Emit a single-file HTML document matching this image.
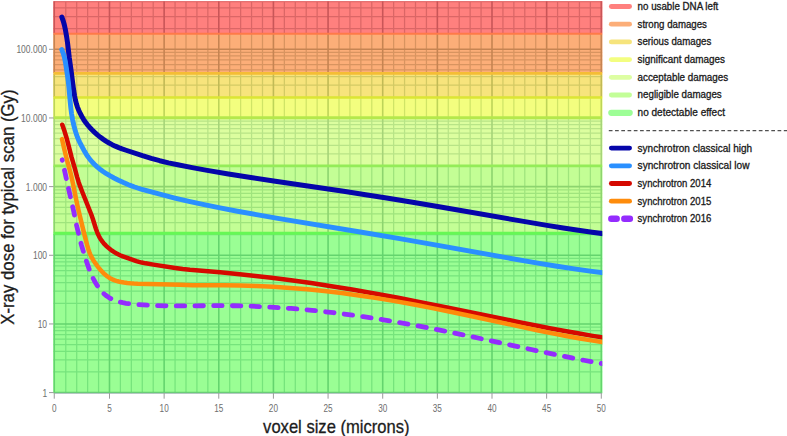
<!DOCTYPE html>
<html><head><meta charset="utf-8"><title>X-ray dose chart</title>
<style>html,body{margin:0;padding:0;background:#fff;width:787px;height:436px;overflow:hidden}svg{display:block}text{font-family:"Liberation Sans",sans-serif}</style>
</head><body>
<svg width="787" height="436" viewBox="0 0 787 436"><defs>
<clipPath id="b0"><rect x="52.25" y="1.20" width="551.25" height="32.60"/></clipPath>
<clipPath id="b1"><rect x="52.25" y="33.80" width="551.25" height="39.60"/></clipPath>
<clipPath id="b2"><rect x="52.25" y="73.40" width="551.25" height="24.10"/></clipPath>
<clipPath id="b3"><rect x="52.25" y="97.50" width="551.25" height="20.20"/></clipPath>
<clipPath id="b4"><rect x="52.25" y="117.70" width="551.25" height="48.20"/></clipPath>
<clipPath id="b5"><rect x="52.25" y="165.90" width="551.25" height="67.30"/></clipPath>
<clipPath id="b6"><rect x="52.25" y="233.20" width="551.25" height="160.10"/></clipPath>
<clipPath id="pc"><rect x="51.25" y="0" width="551.05" height="397.60"/></clipPath>
</defs>
<rect x="53.3" y="1.20" width="549.15" height="32.60" fill="#ff807e"/>
<g clip-path="url(#b0)" fill="none"><path d="M53.65 28.63H602.10M53.65 16.54H602.10M53.65 7.96H602.10M53.65 1.31H602.10M53.65 1.60H602.10M65.77 1.20V33.80M76.70 1.20V33.80M87.63 1.20V33.80M98.56 1.20V33.80M120.41 1.20V33.80M131.34 1.20V33.80M142.27 1.20V33.80M153.20 1.20V33.80M175.06 1.20V33.80M185.99 1.20V33.80M196.92 1.20V33.80M207.85 1.20V33.80M229.70 1.20V33.80M240.63 1.20V33.80M251.56 1.20V33.80M262.49 1.20V33.80M284.35 1.20V33.80M295.28 1.20V33.80M306.21 1.20V33.80M317.14 1.20V33.80M338.99 1.20V33.80M349.92 1.20V33.80M360.85 1.20V33.80M371.78 1.20V33.80M393.64 1.20V33.80M404.57 1.20V33.80M415.50 1.20V33.80M426.43 1.20V33.80M448.28 1.20V33.80M459.21 1.20V33.80M470.14 1.20V33.80M481.07 1.20V33.80M502.93 1.20V33.80M513.86 1.20V33.80M524.79 1.20V33.80M535.72 1.20V33.80M557.57 1.20V33.80M568.50 1.20V33.80M579.43 1.20V33.80M590.36 1.20V33.80" stroke="#db6666" stroke-width="1.25"/><path d="M54.25 1.20V33.80M109.49 1.20V33.80M164.13 1.20V33.80M218.78 1.20V33.80M273.42 1.20V33.80M328.07 1.20V33.80M382.71 1.20V33.80M437.36 1.20V33.80M492.00 1.20V33.80M546.64 1.20V33.80M601.29 1.20V33.80" stroke="#c95658" stroke-width="1.6"/></g>
<rect x="53.3" y="33.80" width="549.15" height="39.60" fill="#fcae78"/>
<g clip-path="url(#b1)" fill="none"><path d="M53.65 69.97H602.10M53.65 64.53H602.10M53.65 59.94H602.10M53.65 55.95H602.10M53.65 52.44H602.10M65.77 33.80V73.40M76.70 33.80V73.40M87.63 33.80V73.40M98.56 33.80V73.40M120.41 33.80V73.40M131.34 33.80V73.40M142.27 33.80V73.40M153.20 33.80V73.40M175.06 33.80V73.40M185.99 33.80V73.40M196.92 33.80V73.40M207.85 33.80V73.40M229.70 33.80V73.40M240.63 33.80V73.40M251.56 33.80V73.40M262.49 33.80V73.40M284.35 33.80V73.40M295.28 33.80V73.40M306.21 33.80V73.40M317.14 33.80V73.40M338.99 33.80V73.40M349.92 33.80V73.40M360.85 33.80V73.40M371.78 33.80V73.40M393.64 33.80V73.40M404.57 33.80V73.40M415.50 33.80V73.40M426.43 33.80V73.40M448.28 33.80V73.40M459.21 33.80V73.40M470.14 33.80V73.40M481.07 33.80V73.40M502.93 33.80V73.40M513.86 33.80V73.40M524.79 33.80V73.40M535.72 33.80V73.40M557.57 33.80V73.40M568.50 33.80V73.40M579.43 33.80V73.40M590.36 33.80V73.40" stroke="#d89460" stroke-width="1.25"/><path d="M53.65 49.30H602.10M54.25 33.80V73.40M109.49 33.80V73.40M164.13 33.80V73.40M218.78 33.80V73.40M273.42 33.80V73.40M328.07 33.80V73.40M382.71 33.80V73.40M437.36 33.80V73.40M492.00 33.80V73.40M546.64 33.80V73.40M601.29 33.80V73.40" stroke="#c68452" stroke-width="1.6"/></g>
<rect x="53.3" y="73.40" width="549.15" height="24.10" fill="#f7e47c"/>
<g clip-path="url(#b2)" fill="none"><path d="M53.65 97.29H602.10M53.65 85.20H602.10M53.65 76.62H602.10M65.77 73.40V97.50M76.70 73.40V97.50M87.63 73.40V97.50M98.56 73.40V97.50M120.41 73.40V97.50M131.34 73.40V97.50M142.27 73.40V97.50M153.20 73.40V97.50M175.06 73.40V97.50M185.99 73.40V97.50M196.92 73.40V97.50M207.85 73.40V97.50M229.70 73.40V97.50M240.63 73.40V97.50M251.56 73.40V97.50M262.49 73.40V97.50M284.35 73.40V97.50M295.28 73.40V97.50M306.21 73.40V97.50M317.14 73.40V97.50M338.99 73.40V97.50M349.92 73.40V97.50M360.85 73.40V97.50M371.78 73.40V97.50M393.64 73.40V97.50M404.57 73.40V97.50M415.50 73.40V97.50M426.43 73.40V97.50M448.28 73.40V97.50M459.21 73.40V97.50M470.14 73.40V97.50M481.07 73.40V97.50M502.93 73.40V97.50M513.86 73.40V97.50M524.79 73.40V97.50M535.72 73.40V97.50M557.57 73.40V97.50M568.50 73.40V97.50M579.43 73.40V97.50M590.36 73.40V97.50" stroke="#d3ca64" stroke-width="1.25"/><path d="M54.25 73.40V97.50M109.49 73.40V97.50M164.13 73.40V97.50M218.78 73.40V97.50M273.42 73.40V97.50M328.07 73.40V97.50M382.71 73.40V97.50M437.36 73.40V97.50M492.00 73.40V97.50M546.64 73.40V97.50M601.29 73.40V97.50" stroke="#c1ba56" stroke-width="1.6"/></g>
<rect x="53.3" y="97.50" width="549.15" height="20.20" fill="#f3fe7f"/>
<g clip-path="url(#b3)" fill="none"><path d="M53.65 97.29H602.10M65.77 97.50V117.70M76.70 97.50V117.70M87.63 97.50V117.70M98.56 97.50V117.70M120.41 97.50V117.70M131.34 97.50V117.70M142.27 97.50V117.70M153.20 97.50V117.70M175.06 97.50V117.70M185.99 97.50V117.70M196.92 97.50V117.70M207.85 97.50V117.70M229.70 97.50V117.70M240.63 97.50V117.70M251.56 97.50V117.70M262.49 97.50V117.70M284.35 97.50V117.70M295.28 97.50V117.70M306.21 97.50V117.70M317.14 97.50V117.70M338.99 97.50V117.70M349.92 97.50V117.70M360.85 97.50V117.70M371.78 97.50V117.70M393.64 97.50V117.70M404.57 97.50V117.70M415.50 97.50V117.70M426.43 97.50V117.70M448.28 97.50V117.70M459.21 97.50V117.70M470.14 97.50V117.70M481.07 97.50V117.70M502.93 97.50V117.70M513.86 97.50V117.70M524.79 97.50V117.70M535.72 97.50V117.70M557.57 97.50V117.70M568.50 97.50V117.70M579.43 97.50V117.70M590.36 97.50V117.70" stroke="#cfe467" stroke-width="1.25"/><path d="M53.65 117.96H602.10M54.25 97.50V117.70M109.49 97.50V117.70M164.13 97.50V117.70M218.78 97.50V117.70M273.42 97.50V117.70M328.07 97.50V117.70M382.71 97.50V117.70M437.36 97.50V117.70M492.00 97.50V117.70M546.64 97.50V117.70M601.29 97.50V117.70" stroke="#bdd459" stroke-width="1.6"/></g>
<rect x="53.3" y="117.70" width="549.15" height="48.20" fill="#dcfe9f"/>
<g clip-path="url(#b4)" fill="none"><path d="M53.65 165.95H602.10M53.65 153.86H602.10M53.65 145.28H602.10M53.65 138.63H602.10M53.65 133.19H602.10M53.65 128.60H602.10M53.65 124.61H602.10M53.65 121.10H602.10M65.77 117.70V165.90M76.70 117.70V165.90M87.63 117.70V165.90M98.56 117.70V165.90M120.41 117.70V165.90M131.34 117.70V165.90M142.27 117.70V165.90M153.20 117.70V165.90M175.06 117.70V165.90M185.99 117.70V165.90M196.92 117.70V165.90M207.85 117.70V165.90M229.70 117.70V165.90M240.63 117.70V165.90M251.56 117.70V165.90M262.49 117.70V165.90M284.35 117.70V165.90M295.28 117.70V165.90M306.21 117.70V165.90M317.14 117.70V165.90M338.99 117.70V165.90M349.92 117.70V165.90M360.85 117.70V165.90M371.78 117.70V165.90M393.64 117.70V165.90M404.57 117.70V165.90M415.50 117.70V165.90M426.43 117.70V165.90M448.28 117.70V165.90M459.21 117.70V165.90M470.14 117.70V165.90M481.07 117.70V165.90M502.93 117.70V165.90M513.86 117.70V165.90M524.79 117.70V165.90M535.72 117.70V165.90M557.57 117.70V165.90M568.50 117.70V165.90M579.43 117.70V165.90M590.36 117.70V165.90" stroke="#b8e487" stroke-width="1.25"/><path d="M53.65 117.96H602.10M54.25 117.70V165.90M109.49 117.70V165.90M164.13 117.70V165.90M218.78 117.70V165.90M273.42 117.70V165.90M328.07 117.70V165.90M382.71 117.70V165.90M437.36 117.70V165.90M492.00 117.70V165.90M546.64 117.70V165.90M601.29 117.70V165.90" stroke="#a6d479" stroke-width="1.6"/></g>
<rect x="53.3" y="165.90" width="549.15" height="67.30" fill="#c3fe95"/>
<g clip-path="url(#b5)" fill="none"><path d="M53.65 234.61H602.10M53.65 222.52H602.10M53.65 213.94H602.10M53.65 207.29H602.10M53.65 201.85H602.10M53.65 197.26H602.10M53.65 193.27H602.10M53.65 189.76H602.10M53.65 165.95H602.10M65.77 165.90V233.20M76.70 165.90V233.20M87.63 165.90V233.20M98.56 165.90V233.20M120.41 165.90V233.20M131.34 165.90V233.20M142.27 165.90V233.20M153.20 165.90V233.20M175.06 165.90V233.20M185.99 165.90V233.20M196.92 165.90V233.20M207.85 165.90V233.20M229.70 165.90V233.20M240.63 165.90V233.20M251.56 165.90V233.20M262.49 165.90V233.20M284.35 165.90V233.20M295.28 165.90V233.20M306.21 165.90V233.20M317.14 165.90V233.20M338.99 165.90V233.20M349.92 165.90V233.20M360.85 165.90V233.20M371.78 165.90V233.20M393.64 165.90V233.20M404.57 165.90V233.20M415.50 165.90V233.20M426.43 165.90V233.20M448.28 165.90V233.20M459.21 165.90V233.20M470.14 165.90V233.20M481.07 165.90V233.20M502.93 165.90V233.20M513.86 165.90V233.20M524.79 165.90V233.20M535.72 165.90V233.20M557.57 165.90V233.20M568.50 165.90V233.20M579.43 165.90V233.20M590.36 165.90V233.20" stroke="#9fe47d" stroke-width="1.25"/><path d="M53.65 186.62H602.10M54.25 165.90V233.20M109.49 165.90V233.20M164.13 165.90V233.20M218.78 165.90V233.20M273.42 165.90V233.20M328.07 165.90V233.20M382.71 165.90V233.20M437.36 165.90V233.20M492.00 165.90V233.20M546.64 165.90V233.20M601.29 165.90V233.20" stroke="#8dd46f" stroke-width="1.6"/></g>
<rect x="53.3" y="233.20" width="549.15" height="160.10" fill="#9afe94"/>
<g clip-path="url(#b6)" fill="none"><path d="M53.65 371.93H602.10M53.65 359.84H602.10M53.65 351.26H602.10M53.65 344.61H602.10M53.65 339.17H602.10M53.65 334.58H602.10M53.65 330.59H602.10M53.65 327.08H602.10M53.65 303.27H602.10M53.65 291.18H602.10M53.65 282.60H602.10M53.65 275.95H602.10M53.65 270.51H602.10M53.65 265.92H602.10M53.65 261.93H602.10M53.65 258.42H602.10M53.65 234.61H602.10M65.77 233.20V393.30M76.70 233.20V393.30M87.63 233.20V393.30M98.56 233.20V393.30M120.41 233.20V393.30M131.34 233.20V393.30M142.27 233.20V393.30M153.20 233.20V393.30M175.06 233.20V393.30M185.99 233.20V393.30M196.92 233.20V393.30M207.85 233.20V393.30M229.70 233.20V393.30M240.63 233.20V393.30M251.56 233.20V393.30M262.49 233.20V393.30M284.35 233.20V393.30M295.28 233.20V393.30M306.21 233.20V393.30M317.14 233.20V393.30M338.99 233.20V393.30M349.92 233.20V393.30M360.85 233.20V393.30M371.78 233.20V393.30M393.64 233.20V393.30M404.57 233.20V393.30M415.50 233.20V393.30M426.43 233.20V393.30M448.28 233.20V393.30M459.21 233.20V393.30M470.14 233.20V393.30M481.07 233.20V393.30M502.93 233.20V393.30M513.86 233.20V393.30M524.79 233.20V393.30M535.72 233.20V393.30M557.57 233.20V393.30M568.50 233.20V393.30M579.43 233.20V393.30M590.36 233.20V393.30" stroke="#76e47c" stroke-width="1.25"/><path d="M53.65 392.60H602.10M53.65 323.94H602.10M53.65 255.28H602.10M54.25 233.20V393.30M109.49 233.20V393.30M164.13 233.20V393.30M218.78 233.20V393.30M273.42 233.20V393.30M328.07 233.20V393.30M382.71 233.20V393.30M437.36 233.20V393.30M492.00 233.20V393.30M546.64 233.20V393.30M601.29 233.20V393.30" stroke="#64d46e" stroke-width="1.6"/></g>
<path d="M53.65 33.80H602.10" stroke="#ff7a48" stroke-width="2.0"/>
<path d="M53.65 73.40H602.10" stroke="#f5bd35" stroke-width="2.6"/>
<path d="M53.65 97.50H602.10" stroke="#dce634" stroke-width="2.3"/>
<path d="M53.65 117.70H602.10" stroke="#b5e84c" stroke-width="3.0"/>
<path d="M53.65 165.90H602.10" stroke="#94ec58" stroke-width="2.6"/>
<path d="M53.65 233.20H602.10" stroke="#66f855" stroke-width="3.0"/>
<g clip-path="url(#pc)" fill="none" stroke-linecap="round" stroke-linejoin="round">
<path d="M61.86 17.14L63.28 21.14L64.42 25.21L65.46 30.10L66.67 37.00L67.65 43.68L69.33 58.07L71.16 71.20L73.02 85.58L73.83 91.27L74.61 95.96L75.45 100.13L76.37 103.75L77.45 107.06L78.74 110.29L80.22 113.45L81.85 116.54L83.50 119.33L85.31 122.01L87.27 124.59L89.54 127.24L91.93 129.79L94.62 132.40L97.42 134.89L100.13 137.08L102.96 139.14L105.87 141.07L109.09 142.99L112.17 144.64L115.32 146.15L118.76 147.61L122.03 148.85L126.05 150.25L142.43 155.69L151.27 158.39L159.70 160.70L168.45 162.82L177.74 164.81L192.21 167.65L207.21 170.39L228.41 174.00L252.36 177.79L275.35 181.26L343.61 191.33L365.61 194.69L386.60 197.98L411.03 201.95L436.18 206.18L460.81 210.44L517.69 220.41L547.03 225.37L563.32 227.99L578.40 230.27L592.01 232.19L605.89 234.00" stroke="#0505aa" stroke-width="5"/>
<path d="M61.79 49.53L63.21 53.27L64.22 56.60L65.00 59.99L65.77 64.41L67.71 77.28L68.31 81.74L68.93 87.45L70.12 101.15L70.72 107.12L71.56 113.57L72.56 119.48L73.27 122.90L74.02 126.06L74.91 129.45L75.84 132.56L76.70 135.17L77.57 137.50L78.55 139.79L79.61 142.04L82.01 146.69L84.51 151.30L86.16 154.09L87.81 156.58L89.91 159.36L92.18 162.01L94.60 164.52L97.16 166.88L100.05 169.25L103.07 171.47L106.40 173.67L109.83 175.71L114.01 177.97L118.48 180.20L123.47 182.51L128.52 184.69L131.54 185.89L134.58 187.01L137.66 188.03L141.00 189.05L166.35 195.94L174.82 198.10L188.94 201.39L204.09 204.68L220.02 207.91L237.45 211.24L256.40 214.65L277.83 218.34L360.21 231.97L399.65 238.65L436.59 245.13L507.95 257.93L537.75 263.09L557.00 266.23L574.30 268.88L590.14 271.10L605.77 273.08" stroke="#2a90ff" stroke-width="4.9"/>
<path d="M62.28 124.71L64.63 131.57L66.66 138.27L67.97 143.09L71.54 157.14L74.67 167.95L77.21 177.36L78.52 181.66L80.08 186.14L82.21 191.75L91.30 214.50L92.86 218.99L95.98 229.01L97.10 232.05L98.17 234.57L99.05 236.36L100.01 238.10L101.07 239.79L102.22 241.41L103.46 242.96L104.78 244.44L106.19 245.86L107.84 247.38L109.56 248.82L111.14 250.04L112.77 251.18L114.66 252.39L116.61 253.50L118.61 254.52L120.64 255.46L122.95 256.42L125.76 257.45L136.39 261.13L139.01 261.92L141.67 262.58L145.59 263.34L153.48 264.65L175.23 267.99L182.66 268.99L189.87 269.77L220.01 272.34L239.67 274.21L255.58 275.91L271.47 277.77L291.06 280.28L311.12 283.09L331.38 286.17L352.11 289.56L367.38 292.20L382.88 294.99L399.35 298.06L416.53 301.37L448.16 307.68L517.97 321.94L534.64 325.26L549.61 328.17L564.84 331.02L579.12 333.58L592.67 335.88L605.76 337.98" stroke="#d50900" stroke-width="4.5"/>
<path d="M62.02 139.10L63.87 147.39L65.69 154.92L67.26 160.97L70.23 171.82L71.62 177.40L72.96 183.50L76.00 198.70L77.44 205.55L78.62 210.66L83.07 229.13L84.95 236.65L87.09 244.88L88.19 248.72L89.22 251.78L90.13 254.08L91.06 256.09L92.21 258.27L93.48 260.40L95.11 262.89L96.98 265.53L98.80 267.89L100.57 269.98L102.25 271.81L104.00 273.55L105.65 275.03L107.37 276.41L108.96 277.53L110.62 278.53L112.36 279.39L114.16 280.13L116.25 280.83L118.64 281.46L121.07 281.97L124.02 282.48L127.24 282.90L130.47 283.23L133.95 283.49L137.69 283.68L180.18 284.87L192.68 285.16L200.68 285.24L223.68 285.20L239.92 285.44L256.67 285.96L273.40 286.76L290.36 287.88L307.30 289.29L324.46 291.03L341.59 293.06L358.93 295.41L376.73 298.10L394.98 301.15L413.92 304.57L432.33 308.13L452.66 312.26L472.97 316.54L523.56 327.41L538.25 330.47L551.23 333.09L566.21 335.98L579.99 338.47L592.81 340.61L605.91 342.60" stroke="#fe8c0c" stroke-width="4.5"/>
<path d="M62.20 159.80L68.19 187.15L73.47 210.31L76.55 225.23L79.73 238.59L81.39 244.87L83.54 252.05L86.85 262.54L89.25 269.38L90.43 272.41L91.71 275.39L92.98 278.09L94.37 280.75L95.86 283.34L97.32 285.66L98.89 287.90L100.56 290.06L102.19 291.93L103.75 293.51L105.40 294.99L107.15 296.36L108.98 297.60L110.90 298.71L112.88 299.70L114.93 300.55L117.27 301.35L119.90 302.07L122.82 302.71L126.01 303.26L129.72 303.78L133.94 304.24L138.43 304.62L143.41 304.95L157.15 305.57L171.15 305.93L186.40 305.98L209.64 305.65L225.14 305.65L233.64 305.75L242.39 305.94L251.38 306.22L260.13 306.57L270.36 307.09L280.84 307.74L291.07 308.48L301.53 309.35L311.98 310.33L322.68 311.44L333.36 312.67L344.02 314.00L353.69 315.30L363.34 316.68L373.22 318.18L383.35 319.79L404.05 323.33L425.68 327.34L445.05 331.16L466.36 335.55L486.65 339.87L535.04 350.31L559.51 355.44L572.00 357.96L583.78 360.25L594.60 362.27L605.92 364.29" stroke="#942cfe" stroke-width="4.8" stroke-dasharray="8.5 10.2" stroke-dashoffset="8"/>
</g>
<path d="M54.25 393.30H602.10" stroke="#a0a0b8" stroke-width="0.7"/>
<path d="M49 392.60H53.75M49 323.94H53.75M49 255.28H53.75M49 186.62H53.75M49 117.96H53.75M49 49.30H53.75M54.25 393.10V398.7M109.49 393.10V398.7M164.13 393.10V398.7M218.78 393.10V398.7M273.42 393.10V398.7M328.07 393.10V398.7M382.71 393.10V398.7M437.36 393.10V398.7M492.00 393.10V398.7M546.64 393.10V398.7M601.29 393.10V398.7" stroke="#9a9a9a" stroke-width="1"/>
<text x="47.1" y="396.55" font-family="Liberation Sans, sans-serif" font-size="11.2" fill="#6e6e6e" text-anchor="end" textLength="4.72" lengthAdjust="spacingAndGlyphs">1</text>
<text x="47.1" y="327.89" font-family="Liberation Sans, sans-serif" font-size="11.2" fill="#6e6e6e" text-anchor="end" textLength="9.45" lengthAdjust="spacingAndGlyphs">10</text>
<text x="47.1" y="259.23" font-family="Liberation Sans, sans-serif" font-size="11.2" fill="#6e6e6e" text-anchor="end" textLength="14.17" lengthAdjust="spacingAndGlyphs">100</text>
<text x="47.1" y="190.57" font-family="Liberation Sans, sans-serif" font-size="11.2" fill="#6e6e6e" text-anchor="end" textLength="21.25" lengthAdjust="spacingAndGlyphs">1.000</text>
<text x="47.1" y="121.91" font-family="Liberation Sans, sans-serif" font-size="11.2" fill="#6e6e6e" text-anchor="end" textLength="25.98" lengthAdjust="spacingAndGlyphs">10.000</text>
<text x="47.1" y="53.25" font-family="Liberation Sans, sans-serif" font-size="11.2" fill="#6e6e6e" text-anchor="end" textLength="30.70" lengthAdjust="spacingAndGlyphs">100.000</text>
<text x="54.25" y="412" font-family="Liberation Sans, sans-serif" font-size="11.2" fill="#6e6e6e" text-anchor="middle" textLength="4.55" lengthAdjust="spacingAndGlyphs">0</text>
<text x="109.49" y="412" font-family="Liberation Sans, sans-serif" font-size="11.2" fill="#6e6e6e" text-anchor="middle" textLength="4.55" lengthAdjust="spacingAndGlyphs">5</text>
<text x="164.13" y="412" font-family="Liberation Sans, sans-serif" font-size="11.2" fill="#6e6e6e" text-anchor="middle" textLength="9.10" lengthAdjust="spacingAndGlyphs">10</text>
<text x="218.78" y="412" font-family="Liberation Sans, sans-serif" font-size="11.2" fill="#6e6e6e" text-anchor="middle" textLength="9.10" lengthAdjust="spacingAndGlyphs">15</text>
<text x="273.42" y="412" font-family="Liberation Sans, sans-serif" font-size="11.2" fill="#6e6e6e" text-anchor="middle" textLength="9.10" lengthAdjust="spacingAndGlyphs">20</text>
<text x="328.07" y="412" font-family="Liberation Sans, sans-serif" font-size="11.2" fill="#6e6e6e" text-anchor="middle" textLength="9.10" lengthAdjust="spacingAndGlyphs">25</text>
<text x="382.71" y="412" font-family="Liberation Sans, sans-serif" font-size="11.2" fill="#6e6e6e" text-anchor="middle" textLength="9.10" lengthAdjust="spacingAndGlyphs">30</text>
<text x="437.36" y="412" font-family="Liberation Sans, sans-serif" font-size="11.2" fill="#6e6e6e" text-anchor="middle" textLength="9.10" lengthAdjust="spacingAndGlyphs">35</text>
<text x="492.00" y="412" font-family="Liberation Sans, sans-serif" font-size="11.2" fill="#6e6e6e" text-anchor="middle" textLength="9.10" lengthAdjust="spacingAndGlyphs">40</text>
<text x="546.64" y="412" font-family="Liberation Sans, sans-serif" font-size="11.2" fill="#6e6e6e" text-anchor="middle" textLength="9.10" lengthAdjust="spacingAndGlyphs">45</text>
<text x="601.29" y="412" font-family="Liberation Sans, sans-serif" font-size="11.2" fill="#6e6e6e" text-anchor="middle" textLength="9.10" lengthAdjust="spacingAndGlyphs">50</text>
<text x="263.1" y="433.3" font-family="Liberation Sans, sans-serif" font-size="18.4" fill="#1c1c1c" stroke="#1c1c1c" stroke-width="0.3" textLength="146.4" lengthAdjust="spacingAndGlyphs">voxel size (microns)</text>
<text transform="translate(14.4 324.8) rotate(-90)" x="0" y="0" font-family="Liberation Sans, sans-serif" font-size="18.2" fill="#1c1c1c" stroke="#1c1c1c" stroke-width="0.3" textLength="235.4" lengthAdjust="spacingAndGlyphs">X-ray dose for typical scan (Gy)</text>
<path d="M611.3 6.50H629.6" stroke="#ff807e" stroke-width="4.8" stroke-linecap="round"/>
<text x="637.6" y="9.95" font-family="Liberation Sans, sans-serif" font-size="10" fill="#1a1a1a" stroke="#1a1a1a" stroke-width="0.3" textLength="80.7" lengthAdjust="spacingAndGlyphs">no usable DNA left</text>
<path d="M611.3 24.20H629.6" stroke="#fcae78" stroke-width="4.8" stroke-linecap="round"/>
<text x="637.6" y="27.65" font-family="Liberation Sans, sans-serif" font-size="10" fill="#1a1a1a" stroke="#1a1a1a" stroke-width="0.3" textLength="69.3" lengthAdjust="spacingAndGlyphs">strong damages</text>
<path d="M611.3 41.90H629.6" stroke="#f6e47c" stroke-width="4.8" stroke-linecap="round"/>
<text x="637.6" y="45.35" font-family="Liberation Sans, sans-serif" font-size="10" fill="#1a1a1a" stroke="#1a1a1a" stroke-width="0.3" textLength="73.7" lengthAdjust="spacingAndGlyphs">serious damages</text>
<path d="M611.3 59.60H629.6" stroke="#f3fe80" stroke-width="4.8" stroke-linecap="round"/>
<text x="637.6" y="63.05" font-family="Liberation Sans, sans-serif" font-size="10" fill="#1a1a1a" stroke="#1a1a1a" stroke-width="0.3" textLength="87.4" lengthAdjust="spacingAndGlyphs">significant damages</text>
<path d="M611.3 77.30H629.6" stroke="#ddfea2" stroke-width="4.8" stroke-linecap="round"/>
<text x="637.6" y="80.75" font-family="Liberation Sans, sans-serif" font-size="10" fill="#1a1a1a" stroke="#1a1a1a" stroke-width="0.3" textLength="90.5" lengthAdjust="spacingAndGlyphs">acceptable damages</text>
<path d="M611.3 95.00H629.6" stroke="#c3fe98" stroke-width="4.8" stroke-linecap="round"/>
<text x="637.6" y="98.45" font-family="Liberation Sans, sans-serif" font-size="10" fill="#1a1a1a" stroke="#1a1a1a" stroke-width="0.3" textLength="84.1" lengthAdjust="spacingAndGlyphs">negligible damages</text>
<path d="M611.3 112.80H629.7" stroke="#9dfe96" stroke-width="6.2" stroke-linecap="round"/>
<text x="637.6" y="116.15" font-family="Liberation Sans, sans-serif" font-size="10" fill="#1a1a1a" stroke="#1a1a1a" stroke-width="0.3" textLength="87.4" lengthAdjust="spacingAndGlyphs">no detectable effect</text>
<path d="M608.8 130.60H787" stroke="#505050" stroke-width="1.1" stroke-dasharray="3.7 2.55"/>
<path d="M611.3 148.10H629.6" stroke="#0505aa" stroke-width="4.8" stroke-linecap="round"/>
<text x="637.6" y="151.55" font-family="Liberation Sans, sans-serif" font-size="10" fill="#1a1a1a" stroke="#1a1a1a" stroke-width="0.3" textLength="114.6" lengthAdjust="spacingAndGlyphs">synchrotron classical high</text>
<path d="M611.3 165.80H629.6" stroke="#2a90ff" stroke-width="4.8" stroke-linecap="round"/>
<text x="637.6" y="169.25" font-family="Liberation Sans, sans-serif" font-size="10" fill="#1a1a1a" stroke="#1a1a1a" stroke-width="0.3" textLength="111.9" lengthAdjust="spacingAndGlyphs">synchrotron classical low</text>
<path d="M611.3 183.50H629.6" stroke="#d50900" stroke-width="4.8" stroke-linecap="round"/>
<text x="637.6" y="186.95" font-family="Liberation Sans, sans-serif" font-size="10" fill="#1a1a1a" stroke="#1a1a1a" stroke-width="0.3" textLength="73.7" lengthAdjust="spacingAndGlyphs">synchrotron 2014</text>
<path d="M611.3 201.20H629.6" stroke="#fe8c0c" stroke-width="4.8" stroke-linecap="round"/>
<text x="637.6" y="204.65" font-family="Liberation Sans, sans-serif" font-size="10" fill="#1a1a1a" stroke="#1a1a1a" stroke-width="0.3" textLength="73.7" lengthAdjust="spacingAndGlyphs">synchrotron 2015</text>
<path d="M611.3 218.75H616.7M624.3 218.75H629.9" stroke="#942cfe" stroke-width="6.4" stroke-linecap="round"/>
<text x="637.6" y="222.35" font-family="Liberation Sans, sans-serif" font-size="10" fill="#1a1a1a" stroke="#1a1a1a" stroke-width="0.3" textLength="73.7" lengthAdjust="spacingAndGlyphs">synchrotron 2016</text></svg>
</body></html>
